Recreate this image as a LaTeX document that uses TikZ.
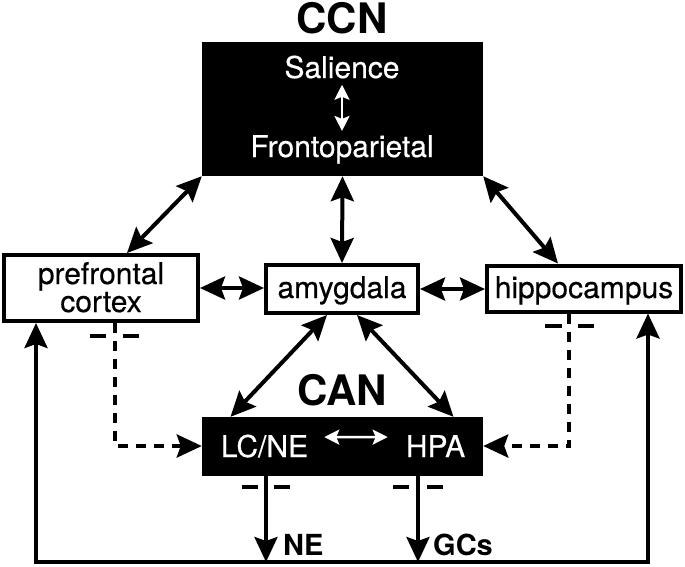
\documentclass[tikz,border=0pt]{standalone}
\usepackage{fontspec}
\setmainfont{TeX Gyre Heros}
\usetikzlibrary{arrows.meta,calc}
\begin{document}
\begin{tikzpicture}[x=1pt,y=-1pt,
  bigtip/.tip={Stealth[length=25pt,width=23pt,inset=4pt]},
  smalltip/.tip={Stealth[length=15pt,width=15pt,inset=3pt]},
  wbox/.style={draw=black,line width=4pt,fill=white,inner sep=0pt},
  bbox/.style={fill=black,inner sep=0pt},
  btext/.style={text=black,font=\fontsize{30}{30}\selectfont\addfontfeature{FakeBold=0.4},inner sep=0pt,anchor=base},
  wtext/.style={text=white,font=\fontsize{30}{30}\selectfont\addfontfeature{FakeBold=0.4},inner sep=0pt,anchor=base},
  titletext/.style={font=\fontsize{42}{42}\bfseries\selectfont,inner sep=0pt,anchor=base},
  smalltitle/.style={font=\fontsize{29}{29}\bfseries\selectfont,inner sep=0pt,anchor=base west},
  conn/.style={line width=4pt,line join=miter},
  bi/.style={{bigtip}-{bigtip}},
  fwd/.style={-{bigtip}},
  dconn/.style={line width=4.3pt,dash pattern=on 10pt off 8pt},
  barline/.style={line width=4.3pt},
  warrow/.style={white,line width=2.5pt,{smalltip}-{smalltip}}
]
\useasboundingbox (0,0) rectangle (685,566);

% CCN
\node[titletext] (ccnlabel) at (342,33) {CCN};
\node[bbox,minimum width=281pt,minimum height=134pt] (ccn) at (342.5,109) {};
\node[wtext] (sal) at (342,78) {Salience};
\node[wtext] (fro) at (342,157) {Frontoparietal};
\draw[warrow] ([yshift=-6pt]sal.south) -- ([yshift=4pt]fro.north);

% middle row
\node[wbox,minimum width=194pt,minimum height=66pt] (pfc) at (101,288) {};
\node[btext] (pfct1) at (101,284) {prefrontal};
\node[btext] (pfct2) at (101,312) {cortex};
\node[wbox,minimum width=152pt,minimum height=48pt] (amyg) at (342,289) {};
\node[btext] (amygt) at (342,298) {amygdala};
\node[wbox,minimum width=194pt,minimum height=46pt] (hip) at (584,288.5) {};
\node[btext] (hipt) at (584,298) {hippocampus};

% CAN
\node[titletext] (canlabel) at (342,405) {CAN};
\node[bbox,minimum width=281pt,minimum height=59pt] (canbox) at (342.5,446.5) {};
\node[wtext] (lc) at (264.5,457) {LC/NE};
\node[wtext] (hpa) at (435.5,457) {HPA};
\draw[warrow] ([xshift=16pt,yshift=9pt]lc.east) -- ([xshift=-18pt,yshift=9pt]hpa.west);

% CCN connectors
\draw[conn,bi] (ccn.south west) -- ([xshift=26pt]pfc.north);
\draw[conn,bi] (ccn.south) -- (amyg.north);
\draw[conn,bi] (ccn.south east) -- ([xshift=-26pt]hip.north);
\draw[conn,bi] (pfc.east) -- (pfc.east -| amyg.west);
\draw[conn,bi] (amyg.east) -- (amyg.east -| hip.west);
\draw[conn,bi] ([xshift=-15pt]amyg.south) -- ([xshift=-112pt]canbox.north);
\draw[conn,bi] ([xshift=15pt]amyg.south) -- ([xshift=111pt]canbox.north);

% dashed inhibitory paths
\coordinate (pc) at (115,446);
\coordinate (hc) at (569,446);
\draw[dconn,fwd] (pfc.south -| pc) -- (pc) -- (canbox.west |- pc);
\draw[dconn,fwd] (hip.south -| hc) -- (hc) -- (canbox.east |- hc);
\draw[barline] (90,336) -- (106,336) (123,336) -- (139,336);
\draw[barline] (545,326) -- (562,326) (578,326) -- (594,326);

% bottom outputs
\coordinate (bl) at (36,562);
\coordinate (br) at (648,562);
\coordinate (ne) at (266,562);
\coordinate (gc) at (418,562);
\draw[conn,bi] (pfc.south -| bl) -- (bl) -- (br) -- (hip.south -| br);
\draw[conn,fwd] (canbox.south -| ne) -- (ne);
\draw[conn,fwd] (canbox.south -| gc) -- (gc);
\draw[barline] (242,487) -- (258,487) (274,487) -- (290,487);
\draw[barline] (393,487) -- (409,487) (427,487) -- (443,487);
\node[smalltitle] (nel) at (283,555) {NE};
\node[smalltitle] (gcl) at (433,555) {GCs};
\end{tikzpicture}
\end{document}
